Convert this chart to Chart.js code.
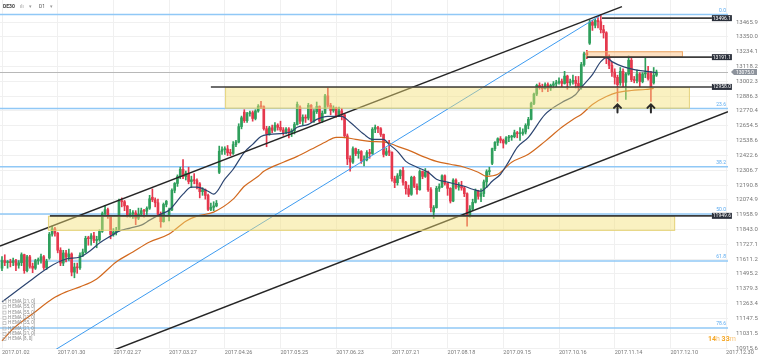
<!DOCTYPE html>
<html>
<head>
<meta charset="utf-8">
<script src="https://cdn.jsdelivr.net/npm/chart.js@4.4.0/dist/chart.umd.min.js"></script>
<style>
  html, body { margin: 0; padding: 0; background: #fff; }
  #wrap { width: 760px; height: 360px; }
</style>
</head>
<body>
<div id="wrap"><canvas id="chart" width="760" height="360"></canvas></div>
<script>
// DE30 daily candles, 2017.01.02 .. 2017.12.05 -> [open, high, low, close]
const ohlc = [
  // Jan
  [11540, 11630, 11520, 11600], [11600, 11645, 11560, 11584], [11584, 11600, 11540, 11590], [11590, 11610, 11550, 11584],
  [11584, 11620, 11560, 11599], [11599, 11610, 11520, 11563], [11563, 11600, 11540, 11583], [11583, 11660, 11560, 11646],
  [11646, 11650, 11500, 11521], [11521, 11640, 11510, 11629], [11629, 11640, 11540, 11555], [11555, 11580, 11505, 11540],
  [11540, 11610, 11530, 11599], [11599, 11620, 11570, 11603], [11603, 11650, 11580, 11630], [11630, 11640, 11530, 11545],
  [11545, 11610, 11530, 11595], [11620, 11820, 11610, 11806], [11806, 11870, 11790, 11848], [11848, 11860, 11790, 11814],
  [11814, 11820, 11660, 11681], [11681, 11700, 11560, 11580],
  // Feb
  [11580, 11680, 11560, 11659], [11659, 11680, 11590, 11627], [11627, 11690, 11600, 11651], [11651, 11660, 11480, 11509],
  [11509, 11580, 11465, 11549], [11549, 11580, 11500, 11543], [11543, 11660, 11530, 11642], [11642, 11690, 11630, 11666],
  [11666, 11790, 11660, 11774], [11774, 11790, 11720, 11771], [11771, 11810, 11720, 11793], [11793, 11820, 11740, 11757],
  [11757, 11790, 11700, 11762], [11762, 11840, 11750, 11828], [11828, 11980, 11820, 11967], [11967, 12030, 11950, 11998],
  [11998, 12010, 11930, 11947], [11947, 11950, 11770, 11804], [11804, 11850, 11790, 11823], [11823, 11860, 11800, 11834],
  // Mar
  [11834, 12080, 11830, 12067], [12067, 12090, 12020, 12060], [12060, 12070, 11990, 12027], [12027, 12030, 11940, 11958],
  [11958, 12000, 11940, 11967], [11967, 11990, 11930, 11972], [11972, 11990, 11880, 11931], [11931, 12010, 11920, 11963],
  [11963, 12010, 11950, 11990], [11990, 12000, 11940, 11986], [11986, 12020, 11960, 12009], [12009, 12110, 12000, 12083],
  [12095, 12160, 12060, 12075], [12075, 12090, 12020, 12052], [12052, 12080, 11950, 11962], [11962, 11980, 11860, 11904],
  [11904, 12050, 11900, 12039], [12039, 12070, 12020, 12064], [11960, 12010, 11910, 11996], [11996, 12160, 11990, 12149],
  [12149, 12210, 12130, 12203], [12203, 12270, 12180, 12257], [12257, 12330, 12240, 12313],
  // Apr
  [12313, 12390, 12240, 12257], [12257, 12300, 12230, 12283], [12283, 12330, 12200, 12218], [12218, 12260, 12170, 12231],
  [12231, 12280, 12200, 12225], [12225, 12240, 12160, 12200], [12200, 12210, 12090, 12139], [12139, 12170, 12110, 12154],
  [12154, 12160, 12080, 12109], [12109, 12120, 11990, 12000], [12000, 12050, 11990, 12016], [12016, 12060, 11990, 12027],
  [12027, 12070, 12020, 12048], [12290, 12495, 12280, 12455], [12455, 12490, 12430, 12467], [12467, 12490, 12430, 12473],
  [12473, 12500, 12420, 12443], [12443, 12470, 12420, 12438],
  // May
  [12438, 12530, 12430, 12507], [12507, 12540, 12490, 12527], [12527, 12670, 12520, 12648], [12648, 12730, 12630, 12717],
  [12760, 12780, 12680, 12694], [12694, 12760, 12680, 12749], [12749, 12770, 12730, 12757], [12757, 12770, 12690, 12711],
  [12711, 12780, 12700, 12770], [12770, 12820, 12760, 12807], [12807, 12845, 12790, 12804], [12804, 12810, 12620, 12631],
  [12631, 12650, 12490, 12590], [12590, 12650, 12580, 12638], [12638, 12660, 12600, 12619], [12619, 12680, 12610, 12659],
  [12659, 12670, 12620, 12642], [12642, 12690, 12610, 12621], [12621, 12640, 12580, 12602], [12602, 12640, 12590, 12629],
  [12629, 12640, 12560, 12598], [12598, 12630, 12570, 12615],
  // Jun
  [12615, 12680, 12590, 12664], [12664, 12840, 12660, 12822], [12800, 12810, 12670, 12690], [12690, 12740, 12660, 12721],
  [12721, 12740, 12680, 12714], [12714, 12830, 12700, 12815], [12815, 12820, 12680, 12690], [12690, 12780, 12680, 12765],
  [12765, 12840, 12750, 12805], [12805, 12810, 12680, 12691], [12691, 12770, 12680, 12752], [12752, 12900, 12750, 12888],
  [12888, 12955, 12800, 12815], [12815, 12830, 12740, 12774], [12774, 12810, 12760, 12794], [12794, 12800, 12720, 12733],
  [12733, 12800, 12730, 12770], [12770, 12790, 12700, 12740], [12740, 12750, 12560, 12575], [12575, 12590, 12350, 12395],
  [12400, 12420, 12300, 12370],
  // Jul
  [12370, 12490, 12360, 12475], [12475, 12480, 12420, 12437], [12437, 12470, 12400, 12453], [12453, 12460, 12360, 12381],
  [12381, 12420, 12340, 12389], [12389, 12460, 12380, 12445], [12445, 12470, 12400, 12437], [12437, 12640, 12430, 12627],
  [12627, 12660, 12600, 12641], [12641, 12650, 12600, 12631], [12631, 12640, 12570, 12587], [12587, 12590, 12410, 12430],
  [12430, 12480, 12420, 12452], [12460, 12540, 12420, 12447], [12447, 12450, 12220, 12240], [12240, 12260, 12170, 12209],
  [12209, 12280, 12190, 12263], [12263, 12310, 12240, 12305], [12305, 12330, 12190, 12212], [12212, 12220, 12120, 12162],
  [12162, 12190, 12100, 12118],
  // Aug
  [12118, 12260, 12110, 12251], [12251, 12260, 12170, 12181], [12181, 12200, 12120, 12154], [12154, 12310, 12150, 12297],
  [12297, 12300, 12240, 12258], [12258, 12320, 12250, 12292], [12292, 12300, 12140, 12154], [12154, 12170, 11980, 12014],
  [11980, 12030, 11930, 12014], [12014, 12180, 12010, 12165], [12165, 12200, 12140, 12178], [12178, 12270, 12170, 12263],
  [12263, 12270, 12190, 12203], [12203, 12210, 12110, 12165], [12165, 12170, 12050, 12065], [12065, 12240, 12060, 12229],
  [12229, 12240, 12160, 12174], [12174, 12210, 12150, 12180], [12180, 12220, 12150, 12168], [12168, 12180, 12100, 12123],
  [12123, 12130, 11868, 11945], [11945, 12030, 11940, 12002], [12002, 12080, 11990, 12055],
  // Sep
  [12055, 12160, 12050, 12143], [12143, 12150, 12080, 12102], [12102, 12160, 12060, 12124], [12124, 12230, 12100, 12215],
  [12215, 12310, 12170, 12296], [12296, 12330, 12270, 12303], [12360, 12480, 12350, 12475], [12475, 12530, 12460, 12524],
  [12524, 12560, 12500, 12553], [12553, 12570, 12520, 12540], [12540, 12550, 12480, 12519], [12519, 12570, 12510, 12560],
  [12560, 12580, 12530, 12566], [12566, 12580, 12540, 12569], [12569, 12620, 12560, 12600], [12600, 12610, 12560, 12592],
  [12592, 12640, 12540, 12594], [12594, 12630, 12580, 12605], [12605, 12670, 12590, 12657], [12657, 12720, 12630, 12704],
  [12704, 12840, 12700, 12829],
  // Oct
  [12829, 12910, 12820, 12902], [12902, 12980, 12890, 12970], [12970, 12990, 12940, 12958], [12958, 12980, 12920, 12945],
  [12945, 12990, 12940, 12976], [12976, 12990, 12920, 12949], [12949, 12980, 12930, 12970], [12970, 13000, 12950, 12982],
  [12982, 13010, 12960, 12991], [12991, 13030, 12980, 13003], [13003, 13020, 12960, 12985], [12985, 13080, 12980, 13043],
  [13043, 13050, 12940, 12990], [12990, 13020, 12970, 12998], [12998, 13050, 12980, 13010], [13010, 13040, 12950, 12985],
  [12985, 13040, 12930, 12953], [12953, 13150, 12940, 13133], [13133, 13230, 13120, 13217], [13225, 13245, 13180, 13210],
  // Nov
  [13300, 13480, 13290, 13465], [13465, 13480, 13400, 13440], [13440, 13490, 13420, 13478], [13478, 13500, 13420, 13468],
  [13468, 13525, 13380, 13406], [13406, 13440, 13340, 13382], [13382, 13390, 13140, 13182], [13182, 13210, 13100, 13127],
  [13127, 13150, 13040, 13074], [13074, 13100, 12980, 13033], [13033, 13050, 12845, 12976], [12990, 13110, 12970, 13080],
  [13080, 13100, 12960, 12994], [12994, 13070, 12860, 13059], [13059, 13200, 13050, 13167], [13167, 13190, 13000, 13015],
  [13015, 13040, 12990, 13008], [13008, 13090, 12990, 13060], [13060, 13070, 12960, 13000], [13000, 13070, 12990, 13060],
  [13060, 13185, 13030, 13062], [13062, 13120, 13010, 13024],
  // Dec
  [13070, 13080, 12845, 12950], [12990, 13110, 12980, 13050], [13050, 13090, 13040, 13075]
]

// moving averages: [bar index, price]
const ema21 = [
  [0, 11277], [11, 11456], [17, 11550], [23, 11612], [28, 11628], [32, 11682], [35, 11737], [39, 11791],
  [42, 11830], [46, 11854], [50, 11877], [53, 11916], [57, 11963], [60, 11994], [65, 12119], [68, 12174],
  [70, 12174], [74, 12142], [76, 12119], [80, 12236], [83, 12314], [87, 12447], [90, 12509], [93, 12571],
  [96, 12587], [101, 12595], [104, 12610], [106, 12642], [110, 12665], [113, 12704], [117, 12727], [122, 12727],
  [125, 12681], [130, 12587], [133, 12548], [137, 12548], [139, 12509], [142, 12454], [145, 12376], [149, 12330],
  [153, 12291], [156, 12236], [160, 12213], [163, 12197], [166, 12181], [169, 12158], [172, 12142], [174, 12174],
  [176, 12220], [179, 12275], [182, 12376], [185, 12486], [189, 12564], [195, 12743], [201, 12837], [206, 12899],
  [208, 12954], [212, 13055], [215, 13156], [217, 13188], [219, 13156], [223, 13117], [227, 13094], [232, 13078],
  [235, 13070]
]
const ema55 = [
  [0, 10972], [4, 11066], [11, 11183], [18, 11300], [23, 11355], [28, 11394], [34, 11456], [41, 11589],
  [47, 11667], [53, 11745], [60, 11807], [66, 11908], [70, 11947], [76, 11979], [83, 12080], [87, 12181],
  [92, 12259], [94, 12298], [101, 12369], [106, 12415], [111, 12470], [116, 12525], [120, 12564], [122, 12564],
  [127, 12548], [132, 12532], [138, 12525], [142, 12493], [147, 12454], [151, 12415], [156, 12376], [161, 12353],
  [166, 12330], [171, 12291], [174, 12259], [178, 12275], [183, 12369], [189, 12431], [195, 12532], [201, 12642],
  [205, 12704], [208, 12743], [212, 12821], [217, 12883], [221, 12915], [226, 12930], [231, 12938], [234, 12946]
]

// drawn objects: [startIdx, startPrice, endIdx, endPrice]
const trendLines = [
  [-0.72, 11714, 222.6, 13586],
  [40.2, 10900, 260.68, 12765]
]
const fanLine = [19.0, 10900, 215.1, 13521]

const fibHigh = 13525
const fibLow = 10404
const fibLevels = [0, 23.6, 38.2, 50, 61.8, 78.6]

const srLevels = [13496.1, 13191.1, 12958.0, 11949.6]
const srFrom = [215.4, 210, 75, 17.2]
const srTo = 254.9

// zones: [fromIdx, toIdx, topPrice, bottomPrice]
const yellowZones = [[80.1, 247.0, 12958.0, 12788], [16.5, 241.7, 11949.6, 11832]]
const orangeZones = [[209.7, 244.5, 13237, 13191.1]]

const arrowBars = [221, 233]
const lastPrice = 13075.0

const xTickIdx = [0, 20, 40, 60, 80, 100, 120, 140, 160, 180, 200, 220, 240, 260]
const xTickLabels = ['2017.01.02', '2017.01.30', '2017.02.27', '2017.03.27', '2017.04.26', '2017.05.25', '2017.06.23',
  '2017.07.21', '2017.08.18', '2017.09.15', '2017.10.16', '2017.11.14', '2017.12.10', '2017.12.30']
const yTicks = [13465.9, 13350.0, 13234.1, 13118.2, 13002.3, 12886.3, 12770.4, 12654.5, 12538.6, 12422.6, 12306.7,
  12190.8, 12074.9, 11958.9, 11843.0, 11727.1, 11611.2, 11495.2, 11379.3, 11263.4, 11147.5, 11031.5, 10915.6]

const indicatorList = ['H EMA [21, 0]', 'H EMA [55, 0]', 'H EMA [55, 0]', 'H EMA [21, 0]', 'H EMA [55, 0]',
  'H EMA [21, 0]', 'H EMA [21, 0]', 'H EMA [8, 0]']

Chart.defaults.font.family = 'Roboto, "DejaVu Sans", sans-serif'

const upColor = '#2f9f5c'
const downColor = '#e5384d'
const candleColors = ohlc.map(c => (c[3] >= c[0] ? upColor : downColor))
const wickData = ohlc.map((c, i) => ({ x: i, y: [c[2], c[1]] }))
const bodyData = ohlc.map((c, i) => ({ x: i, y: [Math.min(c[0], c[3]), Math.max(c[0], c[3])] }))

const lineSet = (pts, color, width, order) => ({
  type: 'line',
  data: pts.map(p => ({ x: p[0], y: p[1] })),
  borderColor: color,
  borderWidth: width,
  pointRadius: 0,
  tension: 0.4,
  cubicInterpolationMode: 'monotone',
  order: order,
})
const segment = (s, color, width) => ({
  type: 'line',
  data: [{ x: s[0], y: s[1] }, { x: s[2], y: s[3] }],
  borderColor: color,
  borderWidth: width,
  pointRadius: 0,
  order: 1,
})

const overlays = {
  id: 'overlays',
  beforeDatasetsDraw(chart) {
    const { ctx, chartArea: a, scales: { x, y } } = chart
    ctx.save()
    // fibonacci retracement
    fibLevels.forEach(l => {
      const py = y.getPixelForValue(fibHigh - (fibHigh - fibLow) * l / 100)
      ctx.strokeStyle = '#90c8f6'
      ctx.lineWidth = 1.5
      ctx.beginPath()
      ctx.moveTo(a.left, py)
      ctx.lineTo(a.right, py)
      ctx.stroke()
      ctx.fillStyle = '#5aaaf0'
      ctx.font = '5px Roboto'
      ctx.textAlign = 'right'
      ctx.textBaseline = 'bottom'
      ctx.fillText(l.toFixed(1), a.right - 2, py - 1.5)
    })
    // last price line
    const lp = Math.round(y.getPixelForValue(lastPrice)) + 0.5
    ctx.strokeStyle = '#b8b8b8'
    ctx.lineWidth = 1
    ctx.beginPath()
    ctx.moveTo(a.left, lp)
    ctx.lineTo(a.right, lp)
    ctx.stroke()
    ctx.restore()
  },
  afterDatasetsDraw(chart) {
    const { ctx, scales: { x, y } } = chart
    ctx.save()
    const drawZone = (z, fill, edge) => {
      const x0 = x.getPixelForValue(z[0]), x1 = x.getPixelForValue(z[1])
      const y0 = y.getPixelForValue(z[2]), y1 = y.getPixelForValue(z[3])
      ctx.fillStyle = fill
      ctx.fillRect(x0, y0, x1 - x0, y1 - y0)
      ctx.strokeStyle = edge
      ctx.lineWidth = 1
      ctx.strokeRect(x0 + 0.5, y0 + 0.5, x1 - x0 - 1, y1 - y0 - 1)
    }
    yellowZones.forEach(z => drawZone(z, 'rgba(244, 224, 118, 0.45)', 'rgba(225, 205, 110, 0.8)'))
    orangeZones.forEach(z => drawZone(z, 'rgba(250, 180, 110, 0.42)', 'rgba(235, 160, 90, 0.9)'))

    // support / resistance lines with price tags
    srLevels.forEach((lv, i) => {
      const py = y.getPixelForValue(lv)
      const x0 = x.getPixelForValue(srFrom[i]), x1 = x.getPixelForValue(srTo)
      ctx.strokeStyle = '#3c3c3c'
      ctx.lineWidth = 1.6
      ctx.beginPath()
      ctx.moveTo(x0, py)
      ctx.lineTo(x1, py)
      ctx.stroke()
      ctx.fillStyle = '#2b303b'
      ctx.fillRect(x1, py - 3, 20, 6)
      ctx.fillStyle = '#ffffff'
      ctx.font = '5px Roboto'
      ctx.textAlign = 'center'
      ctx.textBaseline = 'middle'
      ctx.fillText(lv.toFixed(1), x1 + 10, py + 0.3)
    })

    // arrows under the marked lows
    ctx.strokeStyle = '#2a2a2a'
    ctx.lineWidth = 2
    ctx.lineCap = 'round'
    arrowBars.forEach(i => {
      const ax = x.getPixelForValue(i)
      const ay = y.getPixelForValue(ohlc[i][2]) + 3
      ctx.beginPath()
      ctx.moveTo(ax - 3.5, ay + 3.5)
      ctx.lineTo(ax, ay)
      ctx.lineTo(ax + 3.5, ay + 3.5)
      ctx.moveTo(ax, ay)
      ctx.lineTo(ax, ay + 8)
      ctx.stroke()
    })
    ctx.restore()
  },
  afterDraw(chart) {
    const { ctx, chartArea: a, scales: { y } } = chart
    ctx.save()
    // last price tag on the axis
    const lp = y.getPixelForValue(lastPrice)
    ctx.fillStyle = '#8d939c'
    ctx.beginPath()
    ctx.moveTo(a.right + 3, lp)
    ctx.lineTo(a.right + 6, lp - 3)
    ctx.lineTo(a.right + 29, lp - 3)
    ctx.lineTo(a.right + 29, lp + 3)
    ctx.lineTo(a.right + 6, lp + 3)
    ctx.closePath()
    ctx.fill()
    ctx.fillStyle = '#ffffff'
    ctx.font = '5px Roboto'
    ctx.textAlign = 'left'
    ctx.textBaseline = 'middle'
    ctx.fillText(lastPrice.toFixed(1), a.right + 8, lp + 0.3)

    // instrument header
    ctx.textBaseline = 'middle'
    ctx.font = 'bold 5px Roboto'
    ctx.fillStyle = '#3d3d3d'
    ctx.fillText('DE30', 3, 7)
    ctx.font = '5px Roboto'
    ctx.fillStyle = '#9a9a9a'
    ctx.fillText('ılı', 20, 7)
    ctx.fillText('▾', 29, 7)
    ctx.fillStyle = '#555'
    ctx.fillText('D1', 39, 7)
    ctx.fillStyle = '#9a9a9a'
    ctx.fillText('▾', 50, 7)

    // indicator list
    ctx.font = '4.5px Roboto'
    indicatorList.forEach((t, i) => {
      const ty = 302 + i * 5.3
      ctx.strokeStyle = '#aaa'
      ctx.lineWidth = 0.6
      ctx.strokeRect(3, ty - 1.5, 3, 3)
      ctx.fillStyle = '#8a8a8a'
      ctx.fillText(t, 8, ty)
    })

    // candle countdown
    ctx.textBaseline = 'middle'
    let tx = 708
    const parts = [['14', 'bold 7px Roboto', '#f5a623'], ['h ', '7px Roboto', '#f8c57a'],
      ['33', 'bold 7px Roboto', '#f5a623'], ['m', '7px Roboto', '#f8c57a']]
    parts.forEach(p => {
      ctx.font = p[1]
      ctx.fillStyle = p[2]
      ctx.fillText(p[0], tx, 339)
      tx += ctx.measureText(p[0]).width
    })
    ctx.restore()
  },
}

const ctx = document.getElementById('chart').getContext('2d')
const chart = new Chart(ctx, {
  type: 'bar',
  data: {
    datasets: [
      { type: 'bar', data: wickData, backgroundColor: candleColors, barThickness: 1, grouped: false, order: 5 },
      { type: 'bar', data: bodyData, backgroundColor: candleColors, barThickness: 2, grouped: false, minBarLength: 1, order: 4 },
      lineSet(ema55, '#d2691e', 1.2, 3),
      lineSet(ema21, '#2b4470', 1.2, 2),
      segment(trendLines[0], '#262626', 1.5),
      segment(trendLines[1], '#262626', 1.5),
      segment(fanLine, '#3d9bf0', 1),
    ],
  },
  options: {
    responsive: false,
    animation: false,
    events: [],
    layout: { padding: 0 },
    plugins: {
      legend: { display: false },
      tooltip: { enabled: false },
    },
    scales: {
      x: {
        type: 'linear',
        min: -0.72,
        max: 260.68,
        offset: false,
        afterBuildTicks: s => { s.ticks = xTickIdx.map(v => ({ value: v })) },
        afterFit: s => {
          s.height = 11
          s.paddingLeft = 0
          s.paddingRight = 0
        },
        ticks: {
          autoSkip: false,
          maxRotation: 0,
          minRotation: 0,
          align: 'start',
          padding: 0,
          color: '#777',
          font: { size: 5.5 },
          callback: (v, i) => xTickLabels[i],
        },
        grid: { color: '#f0f0f0', drawTicks: false, offset: false },
        border: { display: false },
      },
      y: {
        position: 'right',
        min: 10908,
        max: 13638,
        afterBuildTicks: s => { s.ticks = yTicks.map(v => ({ value: v })) },
        afterFit: s => {
          // labels sit next to the plot; no extra top/bottom room needed
          s.width = 32
          s.paddingTop = 0
          s.paddingBottom = 0
        },
        ticks: {
          autoSkip: false,
          padding: 8,
          color: '#777',
          font: { size: 6 },
          callback: v => v.toFixed(1),
        },
        grid: { color: '#f0f0f0', drawTicks: false },
        border: { display: false },
      },
    },
  },
  plugins: [overlays],
})
</script>
</body>
</html>
